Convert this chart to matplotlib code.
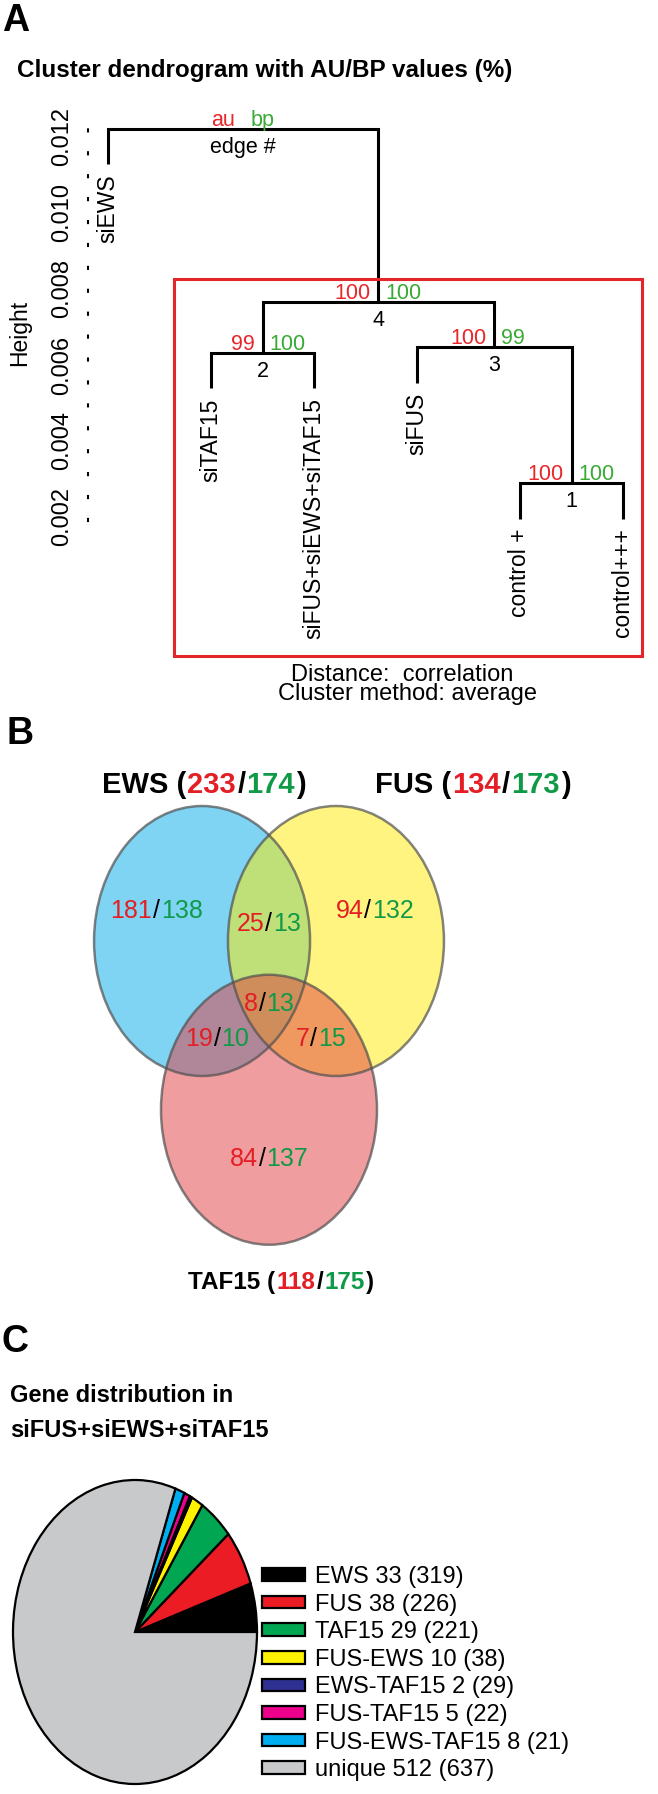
import matplotlib
matplotlib.use('Agg')
import matplotlib.pyplot as plt
import matplotlib.transforms as mtransforms
from matplotlib.patches import Rectangle, Circle

plt.rcParams['font.family'] = ['Liberation Sans', 'DejaVu Sans']

# ---------------- data ----------------
# Panel A: pvclust dendrogram
leaf_labels = ['siEWS', 'siTAF15', 'siFUS+siEWS+siTAF15', 'siFUS', 'control +', 'control+++']
merge_pairs = [(-5, -6), (-2, -3), (-4, 1), (2, 3), (-1, 4)]
merge_heights = [0.00289, 0.00632, 0.00647, 0.00766, 0.01221]
au_values = [100, 99, 100, 100]
bp_values = [100, 100, 99, 100]
edge_ids = [1, 2, 3, 4]
height_ticks = [0.002, 0.004, 0.006, 0.008, 0.010, 0.012]
height_tick_labels = ['0.002', '0.004', '0.006', '0.008', '0.010', '0.012']

# Panel B: Venn counts (red / green)
venn_sets = ['EWS', 'FUS', 'TAF15']
venn_set_red = [233, 134, 118]
venn_set_green = [174, 173, 175]
venn_regions = ['EWS', 'FUS', 'TAF15', 'EWS&FUS', 'EWS&TAF15', 'FUS&TAF15', 'all']
venn_region_red = [181, 94, 84, 25, 19, 7, 8]
venn_region_green = [138, 132, 137, 13, 10, 15, 13]

# Panel C: pie
pie_categories = ['EWS', 'FUS', 'TAF15', 'FUS-EWS', 'EWS-TAF15', 'FUS-TAF15', 'FUS-EWS-TAF15', 'unique']
pie_values = [33, 38, 29, 10, 2, 5, 8, 512]
pie_totals = [319, 226, 221, 38, 29, 22, 21, 637]
pie_colors = ['#000000', '#ec1c24', '#00a651', '#fff200', '#2e3192', '#ec008c', '#00aeef', '#c8c9cb']

# ---------------- layout helpers ----------------
W, H, DPI = 658, 1794, 100
fig = plt.figure(figsize=(W / DPI, H / DPI), dpi=DPI)


def fx(px):
    return px / W


def fy(py):
    return 1 - py / H


def box(x0, y0, x1, y1):
    return [fx(x0), fy(y1), (x1 - x0) / W, (y1 - y0) / H]


def off(tr, dx, dy):
    return mtransforms.offset_copy(tr, fig=fig, x=dx, y=dy, units='dots')


def colored(container, x, y, parts, transform, fontsize, weight='normal'):
    r = fig.canvas.get_renderer()
    ts = [container.text(x, y, s, color=c, fontsize=fontsize, fontweight=weight,
                         ha='left', va='baseline', transform=transform) for s, c in parts]
    ws = [t.get_window_extent(r).width for t in ts]
    gap = 0.04 * fontsize * DPI / 72
    dy = -0.358 * fontsize * DPI / 72
    total = sum(ws) + gap * (len(ws) - 1)
    o = -total / 2
    for t, w in zip(ts, ws):
        t.set_transform(off(transform, o, dy))
        o += w + gap


RED = '#e8262b'
GREEN = '#3aaa35'
VRED = '#e31e24'
VGREEN = '#0f9a48'

# ---------------- Panel A ----------------
fig.text(fx(16), fy(21), 'A', fontsize=27, fontweight='bold', ha='center', va='center')
fig.text(fx(265), fy(70), 'Cluster dendrogram with AU/BP values (%)', ha='center', va='center',
         fontsize=17.5, fontweight='bold')

axA = fig.add_axes(box(88, 100, 650, 700))
axA.patch.set_visible(False)
leaf_x0_px, leaf_dx_px = 108, 103
px_per_unit = 38000.0
ref_tick, ref_px = 0.002, 517
axA.set_xlim((88 - leaf_x0_px) / leaf_dx_px + 1, (650 - leaf_x0_px) / leaf_dx_px + 1)
axA.set_ylim(ref_tick - (700 - ref_px) / px_per_unit, ref_tick + (ref_px - 100) / px_per_unit)

hang = 0.1 * (max(merge_heights) - min(merge_heights))
node_x = {}


def pos(ref):
    if ref < 0:
        return float(-ref), None
    return node_x[ref], merge_heights[ref - 1]


for k, ((a, b), h) in enumerate(zip(merge_pairs, merge_heights), start=1):
    xa, ha_ = pos(a)
    xb, hb_ = pos(b)
    ha_ = h - hang if ha_ is None else ha_
    hb_ = h - hang if hb_ is None else hb_
    axA.plot([xa, xa, xb, xb], [ha_, h, h, hb_], color='black', lw=2.2,
             solid_capstyle='butt', solid_joinstyle='miter')
    node_x[k] = (xa + xb) / 2
    for ref, xx, hh in ((a, xa, ha_), (b, xb, hb_)):
        if ref < 0:
            axA.text(xx, hh, leaf_labels[-ref - 1], rotation=90, ha='center', va='top',
                     fontsize=16.5, transform=off(axA.transData, 0, -10))

for k in range(1, len(merge_pairs) + 1):
    x, h = node_x[k], merge_heights[k - 1]
    if k <= len(au_values):
        au_s, bp_s, e_s = str(au_values[k - 1]), str(bp_values[k - 1]), str(edge_ids[k - 1])
    else:
        au_s, bp_s, e_s = 'au', 'bp', 'edge #'
    axA.text(x, h, au_s, color=RED, ha='right', va='baseline', fontsize=15.5,
             transform=off(axA.transData, -8, 3))
    axA.text(x, h, bp_s, color=GREEN, ha='left', va='baseline', fontsize=15.5,
             transform=off(axA.transData, 7, 3))
    axA.text(x, h, e_s, color='black', ha='center', va='baseline', fontsize=15.5,
             transform=off(axA.transData, 0, -24))

for s in ['top', 'right', 'bottom']:
    axA.spines[s].set_visible(False)
axA.spines['left'].set_linestyle((0, (1, 10)))
axA.spines['left'].set_linewidth(1.5)
axA.spines['left'].set_bounds(0.0019, 0.0124)
axA.set_xticks([])
axA.set_yticks(height_ticks, height_tick_labels)
axA.tick_params(axis='y', length=0, pad=11, labelsize=17, labelrotation=90)
for lab in axA.get_yticklabels():
    lab.set_va('center')
axA.set_ylabel('Height', fontsize=16.5)
axA.yaxis.set_label_coords(fx(31), fy(333), transform=fig.transFigure)

fig.add_artist(Rectangle((fx(174), fy(656)), (642 - 174) / W, (656 - 279) / H,
                         transform=fig.transFigure, fill=False, ec='#e3262a', lw=2.2))
fig.text(fx(402), fy(675), 'Distance:  correlation', ha='center', va='center', fontsize=17)
fig.text(fx(408), fy(694), 'Cluster method: average', ha='center', va='center', fontsize=17)

# ---------------- Panel B ----------------
fig.text(fx(20), fy(734), 'B', fontsize=27, fontweight='bold', ha='center', va='center')
axB = fig.add_axes(box(80, 790, 460, 1300))
axB.set_xlim((80 - 269) / 108, (460 - 269) / 108)
axB.set_ylim((941 - 1300) / 135, (941 - 790) / 135)
axB.axis('off')
centers = {'EWS': (-0.62, 0.0), 'FUS': (0.62, 0.0), 'TAF15': (0.0, -1.25)}
fills = {'EWS': '#01a9e9', 'FUS': '#ffeb00', 'TAF15': '#e13d41'}
for name in venn_sets:
    axB.add_patch(Circle(centers[name], 1.0, fc=fills[name], ec='none', alpha=0.5))
for name in venn_sets:
    axB.add_patch(Circle(centers[name], 1.0, fc='none', ec='#505050', lw=1.8, alpha=0.7))

region_pos = {'EWS': (-1.04, 0.24), 'FUS': (0.98, 0.24), 'TAF15': (0.0, -1.60),
              'EWS&FUS': (0.0, 0.14), 'EWS&TAF15': (-0.48, -0.71), 'FUS&TAF15': (0.48, -0.71),
              'all': (0.0, -0.45)}
for name, r, g in zip(venn_regions, venn_region_red, venn_region_green):
    x, y = region_pos[name]
    colored(axB, x, y, [(str(r), VRED), ('/', 'black'), (str(g), VGREEN)], axB.transData, 18)

header_pos = {'EWS': (204, 783, 21), 'FUS': (473, 783, 21), 'TAF15': (281, 1280, 17.5)}
for name, r, g in zip(venn_sets, venn_set_red, venn_set_green):
    px, py, fs = header_pos[name]
    colored(fig, fx(px), fy(py), [(name + ' (', 'black'), (str(r), VRED), ('/', 'black'),
                                  (str(g), VGREEN), (')', 'black')], fig.transFigure, fs, 'bold')

# ---------------- Panel C ----------------
fig.text(fx(15), fy(1342), 'C', fontsize=27, fontweight='bold', ha='center', va='center')
fig.text(fx(10), fy(1396), 'Gene distribution in', ha='left', va='center', fontsize=17, fontweight='bold')
fig.text(fx(10), fy(1430), 'siFUS+siEWS+siTAF15', ha='left', va='center', fontsize=17, fontweight='bold')

axC = fig.add_axes(box(13, 1480, 257, 1784))
wedges, _ = axC.pie(pie_values, colors=pie_colors, startangle=0, counterclock=True,
                    wedgeprops=dict(edgecolor='black', linewidth=1.6))
axC.set_aspect('auto')
axC.set_xlim(-1, 1)
axC.set_ylim(-1, 1)
for w in wedges:
    w.set_clip_on(False)
legend_labels = [f'{c} {v} ({t})' for c, v, t in zip(pie_categories, pie_values, pie_totals)]
leg_fs = 17
leg_px = leg_fs * DPI / 72
leg = axC.legend(wedges, legend_labels, loc='upper left', bbox_to_anchor=(fx(262), fy(1566)),
                 bbox_transform=fig.transFigure, frameon=False, prop={'size': leg_fs},
                 handlelength=43 / leg_px, handleheight=10.5 / leg_px,
                 handletextpad=10 / leg_px, labelspacing=5.6 / leg_px,
                 borderpad=0, borderaxespad=0)

fig.savefig('out.png', dpi=DPI)
